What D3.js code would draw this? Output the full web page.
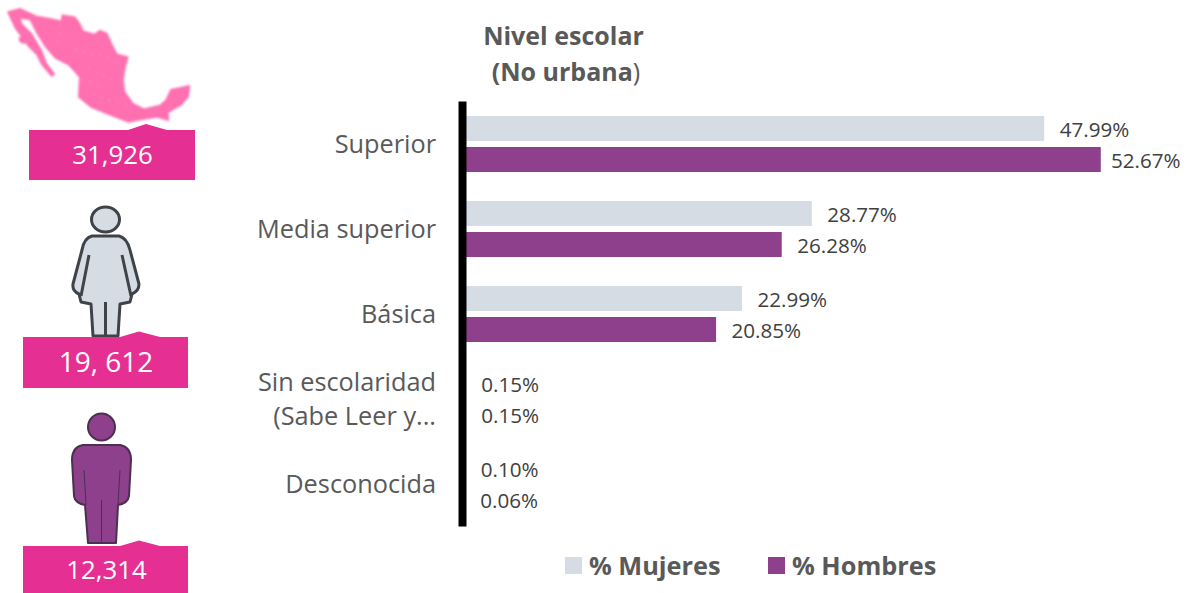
<!DOCTYPE html>
<html><head><meta charset="utf-8">
<script src="https://cdn.jsdelivr.net/npm/d3@7"></script>
<style>html,body{margin:0;background:#fff;overflow:hidden}svg{display:block}text{font-family:"Open Sans",sans-serif}</style>
</head><body><svg id="c" width="1190" height="593"></svg>
<script>
const categories=["Superior","Media superior","Básica","Sin escolaridad|(Sabe Leer y...","Desconocida"];
const mujeres=[47.99,28.77,22.99,0.15,0.10];
const hombres=[52.67,26.28,20.85,0.15,0.06];
const seriesNames=["% Mujeres","% Hombres"];
const seriesColors=["#d6dce4","#8e408c"];
const totals=["31,926","19, 612","12,314"];

const svg=d3.select("#c");
const x=d3.scaleLinear().domain([0,50]).range([464,464+604.5]);
const y=d3.scaleBand().domain(categories).range([101,526]);
const inner=d3.scaleBand().domain([0,1]).range([15,71]).paddingInner(6/31);
const ink="#404040";

// bars
[mujeres,hombres].forEach((vals,s)=>{
  svg.append("g").selectAll("rect").data(vals).join("rect")
    .attr("x",x(0)).attr("y",(d,i)=>y(categories[i])+inner(s))
    .attr("width",d=>x(d)-x(0)).attr("height",inner.bandwidth())
    .attr("fill",seriesColors[s]);
  svg.append("g").selectAll("text").data(vals).join("text")
    .attr("x",d=>Math.min(x(d)+15.5,1111)).attr("y",(d,i)=>y(categories[i])+inner(s)+inner.bandwidth()/2+1)
    .attr("dy","0.35em").attr("font-size",20.6).attr("fill",ink)
    .text(d=>d.toFixed(2)+"%");
});

// axis
const axis=d3.axisLeft(y).tickSize(0).tickPadding(26).tickFormat("");
const ag=svg.append("g").attr("transform","translate(462,0)").call(axis);
ag.select(".domain").attr("stroke","#000").attr("stroke-width",8);
ag.selectAll(".tick").each(function(d){
  const parts=d.split("|");
  const t=d3.select(this).append("text").attr("text-anchor","end").attr("fill","#595959").attr("font-size",25.3);
  parts.forEach((p,i)=>t.append("tspan").attr("x",-26)
    .attr("y",parts.length>1?(i?18:-16)+8:9).text(p));
});

// title
svg.append("text").attr("x",563.5).attr("y",45).attr("text-anchor","middle").attr("font-size",25).attr("font-weight",700).attr("fill","#595959").text("Nivel escolar");
const t2=svg.append("text").attr("x",566).attr("y",81).attr("text-anchor","middle").attr("font-size",25).attr("fill","#595959");
t2.append("tspan").attr("font-weight",700).text("(No urbana");
t2.append("tspan").text(")");

// legend
const legendX=[565,768];
seriesNames.forEach((n,i)=>{
  svg.append("rect").attr("x",legendX[i]).attr("y",557).attr("width",17).attr("height",17).attr("fill",seriesColors[i]);
  svg.append("text").attr("x",legendX[i]+24).attr("y",575).attr("font-size",25.3).attr("font-weight",700).attr("fill","#595959").text(n);
});

// Mexico silhouette
svg.append("filter").attr("id","soft").append("feGaussianBlur").attr("stdDeviation",2.4);
const mx=svg.append("g").attr("transform","scale(0.3333)").attr("filter","url(#soft)");
mx.append("path").attr("fill","#ff70b0").attr("stroke","#ff70b0").attr("stroke-width",2).attr("stroke-linejoin","round")
 .attr("d","M22,35L60,25L110,48L150,55L183,62L186,44L225,50L240,70L250,92L283,102L300,90L322,100L335,130L352,162L385,170L376,205L370,240L375,275L400,310L432,326L480,315L497,300L512,268L570,256L566,290L545,315L505,338L507,362L470,352L432,358L385,367L330,346L272,322L235,292L238,232L205,195L165,175L135,140L110,100L90,60L62,55L65,70L95,100L125,150L140,190L165,222L155,230L125,195L110,165L85,140L60,105L45,85Z");
mx.append("path").attr("fill","#ff70b0").attr("d","M55,112L72,110L76,132L60,128Z");
mx.append("path").attr("fill","none").attr("stroke","#ffb0d4").attr("stroke-width",3).attr("stroke-dasharray","3 22")
 .attr("d","M180,75L175,130M225,150L300,165L350,190M265,205L340,240M245,240L310,260M280,285L400,320M350,295L300,310");

// woman
const w=svg.append("g").attr("stroke","#3f4347").attr("stroke-width",3).attr("stroke-linejoin","round").attr("fill","#d6dce4");
w.append("ellipse").attr("cx",105.5).attr("cy",219.5).attr("rx",14).attr("ry",12.5);
w.append("path").attr("d","M92,236L119,236Q127,238 130,250L139,284Q139,291 132,294L130,302L120,304L118,336L93,336L91,304L81,302L79,294Q72,291 73,284L82,250Q84,238 92,236Z");
w.append("path").attr("fill","none").attr("d","M89,255L81,296M122,255L131,296M105.5,302V336");

// man
const m=svg.append("g").attr("stroke","#4b3050").attr("stroke-width",2).attr("stroke-linejoin","round").attr("fill","#8e408c");
m.append("circle").attr("cx",101.5).attr("cy",427).attr("r",13.5);
m.append("path").attr("d","M83,445L120,445Q131,447 131,460L129,496Q128,503 118,505L116,543L88,543L85,505Q75,503 74,496L72,460Q72,447 83,445Z");
m.append("path").attr("fill","none").attr("stroke-width",1).attr("d","M84,470L86,505M120,470L118,505M101.5,500V543");

// ribbons
const ribbons=[[29,195,130,180,128,146,167],[23,188,337,388,120,139,160],[23,188,546,593,120,139,160]];
ribbons.forEach((r,i)=>{
  const [x0,x1,t,b,a,p,c]=r;
  svg.append("path").attr("fill","#e52f92").attr("d",`M${x0},${t}L${a},${t}L${p},${t+(i==0?-6:-5.5)}L${c},${t}L${x1},${t}L${x1},${b}L${x0},${b}Z`);
  svg.append("text").attr("x",[112.5,106,106.5][i]).attr("y",[164,372,579][i]).attr("text-anchor","middle").attr("fill","#fff").attr("font-size",[25.8,28,25.8][i]).text(totals[i]);
});
</script></body></html>
